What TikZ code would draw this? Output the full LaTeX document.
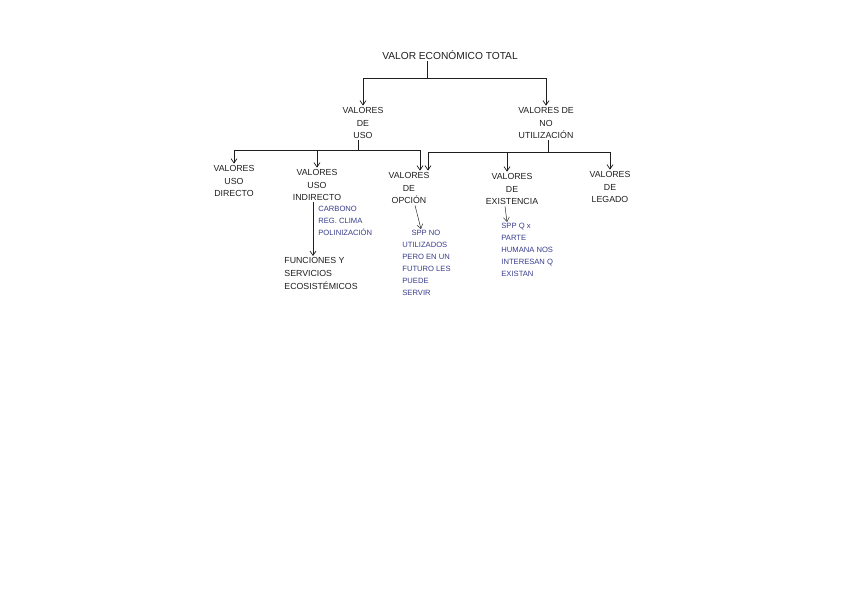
\documentclass[tikz,border=0pt]{standalone}
\usepackage{fontspec}
\setmainfont{Liberation Sans}
\usepackage{xcolor}
\usetikzlibrary{arrows.meta,positioning}

\definecolor{pen}{RGB}{30,30,30}
\definecolor{bluepen}{RGB}{55,60,140}

\begin{document}
\begin{tikzpicture}[x=0.03cm, y=-0.03cm,
  every node/.style={font=\fontsize{7.5}{11}\selectfont, text=pen, inner sep=1pt},
  label/.style={align=center},
  note/.style={align=left, anchor=north west, text=bluepen, font=\fontsize{6.5}{10.2}\selectfont},
  link/.style={draw=pen, line width=0.6pt},
  arr/.style={link, -{Straight Barb[length=1.3mm,width=1.8mm]}}]

% page
\useasboundingbox (0,0) rectangle (848,615);

% top level
\node[font=\fontsize{8.7}{10}\selectfont] (tot) at (450,55) {VALOR ECONÓMICO TOTAL};

% second level
\node[label] (uso) at (363,123) {VALORES\\DE\\USO};
\node[label] (nouso) at (546,123) {VALORES DE\\NO\\UTILIZACIÓN};

\coordinate (j1) at (427,78);
\draw[link] (tot.south -| j1) -- (j1);
\draw[link] (j1 -| uso) -- (j1 -| nouso);
\draw[arr] (j1 -| uso) -- (uso.north);
\draw[arr] (j1 -| nouso) -- (nouso.north);

% third level
\node[label] (dir) at (234,181) {VALORES\\USO\\DIRECTO};
\node[label] (ind) at (317,185) {VALORES\\USO\\INDIRECTO};
\node[label] (opc) at (409,188) {VALORES\\DE\\OPCIÓN};
\node[label] (exi) at (512,189) {VALORES\\DE\\EXISTENCIA};
\node[label] (leg) at (610,187) {VALORES\\DE\\LEGADO};

% branches of uso
\coordinate (j2) at (358,150);
\draw[link] (uso.south -| j2) -- (j2);
\draw[link] (j2 -| dir) -- (420,150);
\draw[arr] (j2 -| dir) -- (dir.north);
\draw[arr] (j2 -| ind) -- (ind.north);
\draw[arr] (420,150) -- (opc.north -| 420,0);

% branches of no utilizacion
\coordinate (j3) at (548,152);
\draw[link] (nouso.south -| j3) -- (j3);
\draw[link] (428,152) -- (j3 -| leg);
\draw[arr] (428,152) -- (opc.north -| 428,0);
\draw[arr] (j3 -| 507,0) -- (exi.north -| 507,0);
\draw[arr] (j3 -| leg) -- (leg.north);

% indirecto
\node[note] (carb) at (317,205) {CARBONO\\REG. CLIMA\\POLINIZACIÓN};
\node[align=left, anchor=north west] (func) at (283,256) {FUNCIONES Y\\SERVICIOS\\ECOSISTÉMICOS};
\draw[arr] (ind.south -| 313,0) -- (func.north -| 313,0);

% opcion
\node[note] (spp1) at (401,229) {\hspace{1.2em}SPP NO\\UTILIZADOS\\PERO EN UN\\FUTURO LES\\PUEDE\\SERVIR};
\draw[arr, line width=0.4pt] (opc.south -| 415,0) -- (spp1.north -| 421,0);

% existencia
\node[note] (spp2) at (500,222) {SPP Q x\\PARTE\\HUMANA NOS\\INTERESAN Q\\EXISTAN};
\draw[arr, line width=0.4pt] (exi.south -| 505,0) -- (spp2.north -| 507,0);

\end{tikzpicture}
\end{document}
